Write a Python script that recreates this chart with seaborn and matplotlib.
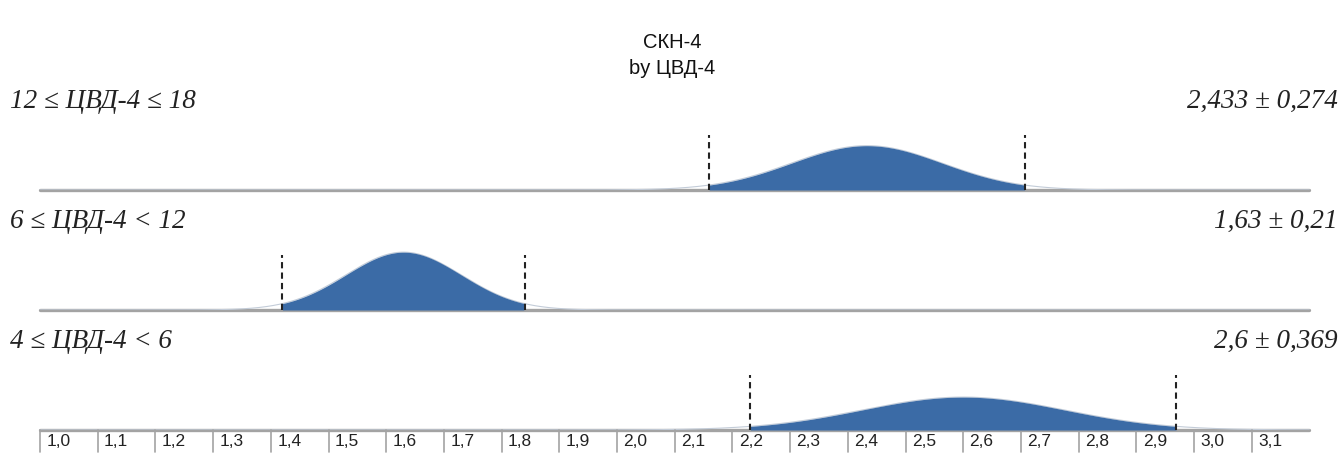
import numpy as np
import pandas as pd
import matplotlib.pyplot as plt
import seaborn as sns

sns.set_style("white")
plt.rcParams['font.family'] = ['Liberation Sans', 'DejaVu Sans']

# values
title_main = "СКН-4"
title_sub = "by ЦВД-4"
groups = ["12 ≤ ЦВД-4 ≤ 18", "6 ≤ ЦВД-4 < 12", "4 ≤ ЦВД-4 < 6"]
means = [2.433, 1.63, 2.6]
sds = [0.274, 0.21, 0.369]
stat_labels = ["2,433 ± 0,274", "1,63 ± 0,21", "2,6 ± 0,369"]
tick_values = [1.0, 1.1, 1.2, 1.3, 1.4, 1.5, 1.6, 1.7, 1.8, 1.9, 2.0,
               2.1, 2.2, 2.3, 2.4, 2.5, 2.6, 2.7, 2.8, 2.9, 3.0, 3.1]
tick_labels = ["1,0", "1,1", "1,2", "1,3", "1,4", "1,5", "1,6", "1,7", "1,8", "1,9", "2,0",
               "2,1", "2,2", "2,3", "2,4", "2,5", "2,6", "2,7", "2,8", "2,9", "3,0", "3,1"]

W, H = 1344, 457
blue = "#3b6ba6"
grey = "#a3a3a3"
serif_it = ['Liberation Serif', 'DejaVu Serif']

# pixel layout
px_per_unit = 57.7 / 0.1
x_left = 1.0 - 40 / px_per_unit
x_right = 1.0 + (W - 40) / px_per_unit
baselines = [190, 310, 430]
band_h = 70
dens_scale = 14.5      # pixels per density unit
shape_k = 2.1          # curve drawn narrower than the ±sd marks

fig = plt.figure(figsize=(W / 100, H / 100), dpi=100)

for i in range(3):
    yb = baselines[i]
    ax = fig.add_axes([0, 1 - yb / H, 1, band_h / H])
    ax.set_xlim(x_left, x_right)
    ax.set_ylim(0, band_h / dens_scale)
    ax.axis('off')

    m, s = means[i], sds[i]
    sc = s / shape_k
    xs = np.linspace(1.0, 3.2, 1200)
    df = pd.DataFrame({'x': xs})
    df['y'] = np.exp(-0.5 * ((df.x - m) / sc) ** 2) / (sc * np.sqrt(2 * np.pi))

    ax.plot([1.0, 3.2], [0, 0], color=grey, lw=2.4, clip_on=False, zorder=1)
    sns.lineplot(data=df, x='x', y='y', ax=ax, color="#c3ccd8", lw=0.8, zorder=2)
    inner = (df.x >= m - s) & (df.x <= m + s)
    ax.fill_between(df.x[inner], 0, df.y[inner], color=blue, lw=0, zorder=3)
    for xv in (m - s, m + s):
        ax.axvline(xv, ymin=0, ymax=55 / band_h, color="#222222", lw=1.5,
                   ls=(0, (3, 2)), zorder=4)

    ty = 1 - (yb - 89) / H
    fig.text(10 / W, ty, groups[i], family=serif_it, style='italic',
             fontsize=19.5, ha='left', va='center', color="#222222")
    fig.text(1338 / W, ty, stat_labels[i], family=serif_it, style='italic',
             fontsize=19.5, ha='right', va='center', color="#222222")

    if i == 2:
        for tv, tl in zip(tick_values, tick_labels):
            ax.plot([tv, tv], [0, -22 / dens_scale], color=grey, lw=1.2, clip_on=False)
            ax.text(tv + 0.011, -12 / dens_scale, tl, fontsize=12.5, ha='left',
                    va='center', color="#222222", clip_on=False)

fig.text(0.5, 1 - 43 / H, title_main, fontsize=14.5, ha='center', va='center', color="#111111")
fig.text(0.5, 1 - 68 / H, title_sub, fontsize=14.5, ha='center', va='center', color="#111111")

fig.savefig("out.png", dpi=100)
